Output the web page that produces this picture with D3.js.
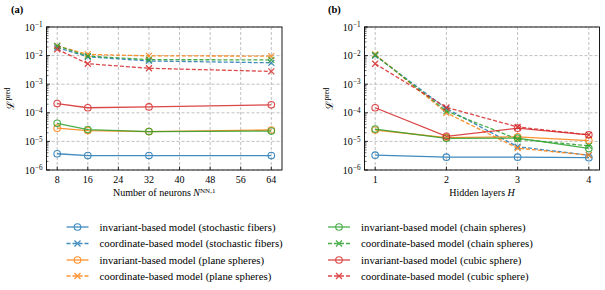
<!DOCTYPE html>
<html>
<head>
<meta charset="utf-8">
<script src="https://cdn.jsdelivr.net/npm/d3@7"></script>
<style>
  body { margin: 0; background: #fff; }
  svg text { font-family: "Liberation Serif", "Times New Roman", serif; }
  .grid line { stroke: #b0b0b0; stroke-dasharray: 3,2; stroke-width: 0.8; }
</style>
</head>
<body>
<svg id="chart" width="605" height="290"></svg>
<script>
// ---- data ----
const neurons = [8, 16, 32, 64];
const layers  = [1, 2, 3, 4];
const neuronTicks = [8, 16, 24, 32, 40, 48, 56, 64];
const layerTicks  = [1, 2, 3, 4];
const yTickExps   = [-6, -5, -4, -3, -2, -1];

const seriesNames = [
  "invariant-based model (stochastic fibers)",
  "coordinate-based model (stochastic fibers)",
  "invariant-based model (plane spheres)",
  "coordinate-based model (plane spheres)",
  "invariant-based model (chain spheres)",
  "coordinate-based model (chain spheres)",
  "invariant-based model (cubic sphere)",
  "coordinate-based model (cubic sphere)"
];
const seriesColors = ["#1f77b4", "#1f77b4", "#ff7f0e", "#ff7f0e", "#2ca02c", "#2ca02c", "#d62728", "#d62728"];
const seriesKind   = ["inv", "coord", "inv", "coord", "inv", "coord", "inv", "coord"];

// panel (a): loss vs number of neurons
const lossNeurons = [
  [3.7e-6, 3.2e-6, 3.2e-6, 3.2e-6],
  [1.9e-2, 9.1e-3, 6.5e-3, 5.6e-3],
  [2.9e-5, 2.4e-5, 2.2e-5, 2.5e-5],
  [2.2e-2, 1.1e-2, 9.8e-3, 9.6e-3],
  [4.3e-5, 2.6e-5, 2.2e-5, 2.3e-5],
  [2.2e-2, 9.6e-3, 7.2e-3, 7.1e-3],
  [2.1e-4, 1.5e-4, 1.6e-4, 1.9e-4],
  [1.66e-2, 5.2e-3, 3.6e-3, 2.8e-3]
];
// panel (b): loss vs hidden layers
const lossLayers = [
  [3.3e-6, 2.8e-6, 2.8e-6, 2.7e-6],
  [1.0e-2, 1.4e-4, 6.5e-6, 3.3e-6],
  [2.5e-5, 1.35e-5, 1.45e-5, 1.07e-5],
  [1.1e-2, 1.0e-4, 5.8e-6, 3.3e-6],
  [2.7e-5, 1.28e-5, 1.3e-5, 5.7e-6],
  [1.05e-2, 1.15e-4, 1.2e-5, 7e-6],
  [1.5e-4, 1.5e-5, 2.9e-5, 1.7e-5],
  [5.2e-3, 1.55e-4, 3.2e-5, 1.7e-5]
];

const svg = d3.select("#chart");
const plotTop = 27, plotBottom = 170;
const y = d3.scaleLog().domain([1e-6, 1e-1]).range([plotBottom, plotTop]);
const fs = 10;

function supText(sel, base, sup) {
  sel.append("tspan").text(base);
  sel.append("tspan").attr("dy", "-0.45em").attr("font-size", "0.72em").text(sup);
}

function drawMarker(sel, cx, cy, kind, col) {
  if (kind === "inv") {
    sel.append("circle").attr("cx", cx).attr("cy", cy).attr("r", 3.3)
      .attr("fill", "none").attr("stroke", col).attr("stroke-width", 1.1);
  } else {
    const r = 3;
    sel.append("path")
      .attr("d", `M${cx - r},${cy - r}L${cx + r},${cy + r}M${cx - r},${cy + r}L${cx + r},${cy - r}`)
      .attr("stroke", col).attr("stroke-width", 1.2);
  }
}

function panel(opts) {
  const { x, xs, data, ticks, label, xlabel, labelX, ylabX, supLabel } = opts;
  const [left, right] = x.range();
  const g = svg.append("g");

  // grid
  const grid = g.append("g").attr("class", "grid");
  ticks.forEach(t => grid.append("line")
    .attr("x1", x(t)).attr("x2", x(t)).attr("y1", plotTop).attr("y2", plotBottom));
  yTickExps.forEach(e => grid.append("line")
    .attr("x1", left).attr("x2", right).attr("y1", y(Math.pow(10, e))).attr("y2", y(Math.pow(10, e))));

  // minor y ticks
  for (let e = -6; e < -1; e++) {
    for (let k = 2; k <= 9; k++) {
      const yy = y(k * Math.pow(10, e));
      g.append("line").attr("x1", left).attr("x2", left + 2)
        .attr("y1", yy).attr("y2", yy).attr("stroke", "#000").attr("stroke-width", 0.6);
    }
  }
  // major y ticks + labels
  yTickExps.forEach(e => {
    const yy = y(Math.pow(10, e));
    g.append("line").attr("x1", left).attr("x2", left + 3.5)
      .attr("y1", yy).attr("y2", yy).attr("stroke", "#000").attr("stroke-width", 0.8);
    const t = g.append("text").attr("x", left - 4).attr("y", yy + 3.5)
      .attr("text-anchor", "end").attr("font-size", fs);
    supText(t, "10", "\u2212" + (-e));
  });
  // x ticks + labels
  ticks.forEach(t => {
    g.append("line").attr("x1", x(t)).attr("x2", x(t))
      .attr("y1", plotBottom).attr("y2", plotBottom - 3.5).attr("stroke", "#000").attr("stroke-width", 0.8);
    g.append("text").attr("x", x(t)).attr("y", plotBottom + 13)
      .attr("text-anchor", "middle").attr("font-size", fs).text(t);
  });

  // series
  const line = d3.line().x((d, i) => x(xs[i])).y(d => y(d));
  data.forEach((vals, s) => {
    const col = seriesColors[s];
    const sg = g.append("g").attr("opacity", 0.85);
    sg.append("path").attr("d", line(vals)).attr("fill", "none")
      .attr("stroke", col).attr("stroke-width", 1.3)
      .attr("stroke-dasharray", seriesKind[s] === "coord" ? "4,2" : null);
    vals.forEach((v, i) => drawMarker(sg, x(xs[i]), y(v), seriesKind[s], col));
  });

  // frame
  g.append("rect").attr("x", left).attr("y", plotTop).attr("width", right - left)
    .attr("height", plotBottom - plotTop).attr("fill", "none").attr("stroke", "#000").attr("stroke-width", 0.9);

  // panel label
  g.append("text").attr("x", labelX).attr("y", 13).attr("font-size", 10.5)
    .attr("font-weight", "bold").text(label);

  // y label
  const yl = g.append("text")
    .attr("transform", `translate(${ylabX},${(plotTop + plotBottom) / 2}) rotate(-90)`)
    .attr("text-anchor", "middle").attr("font-size", 10.5);
  yl.append("tspan").text("\u2112");
  yl.append("tspan").attr("dy", "-0.45em").attr("font-size", "0.7em").text("pred");

  // x label
  const xl = g.append("text").attr("x", (left + right) / 2).attr("y", plotBottom + 26)
    .attr("text-anchor", "middle").attr("font-size", 10);
  xl.append("tspan").text(xlabel);
  xl.append("tspan").attr("font-style", "italic").text(supLabel ? "N" : "H");
  if (supLabel) xl.append("tspan").attr("dy", "-0.45em").attr("font-size", "0.7em").text("NN,1");
}

// x scales: matplotlib-style 5% margins around the data range
const xa = d3.scaleLinear().domain([8 - 2.8, 64 + 2.8]).range([46.5, 282]);
panel({ x: xa, xs: neurons, data: lossNeurons, ticks: neuronTicks, label: "(a)",
  xlabel: "Number of neurons ", labelX: 11, ylabX: 13.5, supLabel: true });

const xb = d3.scaleLinear().domain([1 - 0.15, 4 + 0.15]).range([364.5, 599.5]);
panel({ x: xb, xs: layers, data: lossLayers, ticks: layerTicks, label: "(b)",
  xlabel: "Hidden layers ", labelX: 328, ylabX: 332.5, supLabel: false });

// legend
const legend = svg.append("g");
const rowY = [227, 243.5, 260, 276];
const colX = [66.5, 328];
seriesNames.forEach((name, s) => {
  const col = Math.floor(s / 4), row = s % 4;
  const x0 = colX[col];
  const ly = rowY[row];
  const lg = legend.append("g").attr("opacity", 0.85);
  lg.append("line").attr("x1", x0).attr("x2", x0 + 22).attr("y1", ly).attr("y2", ly)
    .attr("stroke", seriesColors[s]).attr("stroke-width", 1.3)
    .attr("stroke-dasharray", seriesKind[s] === "coord" ? "4,2" : null);
  drawMarker(lg, x0 + 11, ly, seriesKind[s], seriesColors[s]);
  legend.append("text").attr("x", x0 + 33).attr("y", ly + 3.5).attr("font-size", 10.8).text(name);
});
</script>
</body>
</html>
